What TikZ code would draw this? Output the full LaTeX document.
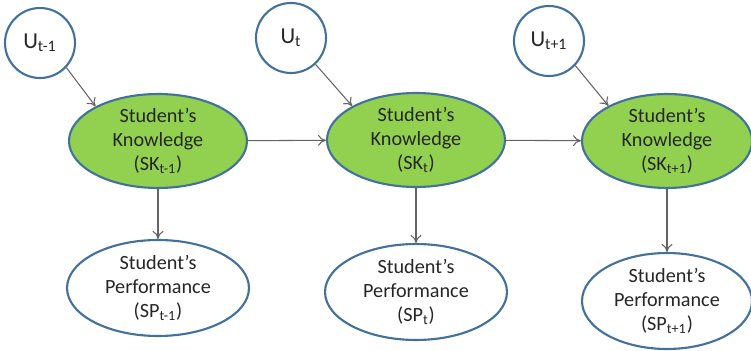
\documentclass[tikz,border=0pt]{standalone}
\usepackage{fontspec}
\setmainfont{Carlito}
\usepackage{tikz}
\usetikzlibrary{arrows.meta,shapes.geometric}
\definecolor{skgreen}{RGB}{146,208,80}
\definecolor{rimblue}{RGB}{65,113,156}
\definecolor{arrgray}{RGB}{100,100,100}

\begin{document}
\begin{tikzpicture}[x=0.02cm, y=-0.02cm,
    unode/.style={circle, draw=rimblue, line width=1.2pt, fill=white, minimum size=1.4cm, inner sep=0pt, font=\fontsize{13}{15}\selectfont, text=black!85},
    sknode/.style={ellipse, draw=rimblue, line width=1.2pt, fill=skgreen, minimum width=3.56cm, minimum height=1.88cm, inner xsep=0pt, inner ysep=-1pt, align=center, font=\fontsize{11.5}{13.6}\selectfont, text=black!85},
    spnode/.style={sknode, fill=white, minimum width=3.64cm, minimum height=1.92cm},
    link/.style={draw=arrgray, line width=0.6pt, -{To[length=1.6mm, width=2.2mm]}}]
      \useasboundingbox (0,0) rectangle (751,351);
      % inputs
      \node[unode] (u1) at (40,43) {U\textsubscript{t-1}};
      \node[unode] (u2) at (291,38) {U\textsubscript{t}};
      \node[unode] (u3) at (549,41) {U\textsubscript{t+1}};
      % knowledge states
      \node[sknode] (sk1) at (158,141) {Student's\\Knowledge\\(SK\textsubscript{t-1})};
      \node[sknode] (sk2) at (416,140) {Student's\\Knowledge\\(SK\textsubscript{t})};
      \node[sknode, minimum width=3.4cm] (sk3) at (667,141) {Student's\\Knowledge\\(SK\textsubscript{t+1})};
      % performance
      \node[spnode] (sp1) at (158,288) {Student's\\Performance\\(SP\textsubscript{t-1})};
      \node[spnode] (sp2) at (416,292) {Student's\\Performance\\(SP\textsubscript{t})};
      \node[spnode, minimum width=3.4cm] (sp3) at (667,301) {Student's\\Performance\\(SP\textsubscript{t+1})};
      % arrows
      \draw[link] (u1.-43) -- (sk1.151);
      \draw[link] (u2.-47) -- (sk2.152);
      \draw[link] (u3.-43) -- (sk3.149);
      \draw[link] (sk1) -- (sk2);
      \draw[link] (sk2) -- (sk3);
      \draw[link] (sk1) -- (sp1);
      \draw[link] (sk2) -- (sp2);
      \draw[link] (sk3) -- (sp3);
\end{tikzpicture}
\end{document}
